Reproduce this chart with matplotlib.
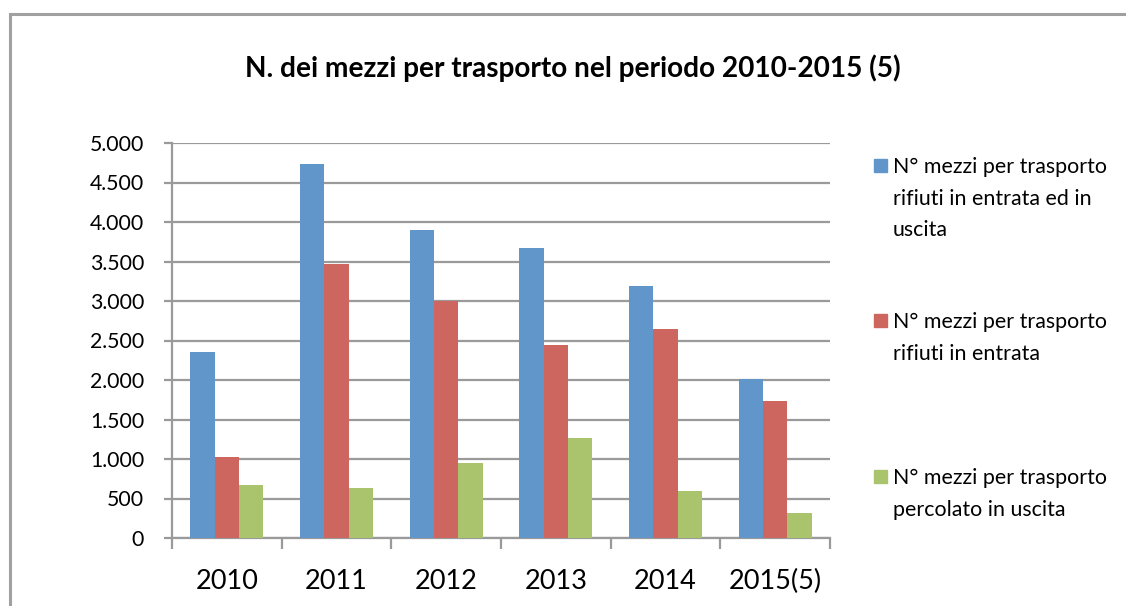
import numpy as np
import matplotlib
matplotlib.use("Agg")
import matplotlib.pyplot as plt
from matplotlib.patches import Rectangle

plt.rcParams['font.family'] = ['Lato', 'DejaVu Sans']

# data
years = ['2010', '2011', '2012', '2013', '2014', '2015(5)']
tot_mezzi = [2355, 4730, 3900, 3665, 3195, 2010]
entrata = [1020, 3465, 2995, 2440, 2640, 1735]
percolato = [665, 630, 945, 1260, 590, 315]

series_labels = ['N° mezzi per trasporto\nrifiuti in entrata ed in\nuscita',
                 'N° mezzi per trasporto\nrifiuti in entrata',
                 'N° mezzi per trasporto\npercolato in uscita']
colors = ['#6096C9', '#CD665F', '#A9C46C']
title = 'N. dei mezzi per trasporto nel periodo 2010-2015 (5)'

W, H = 1126, 606
fig = plt.figure(figsize=(W / 100, H / 100), dpi=100)

def fx(px):
    return px / W

def fy(py):
    return 1 - py / H

# outer frame (only left and top edges visible)
fig.patches.append(Rectangle((fx(10), fy(H + 20)), fx(W + 20) - fx(10), fy(14) - fy(H + 20),
                             transform=fig.transFigure, fill=False,
                             edgecolor='#A0A0A0', linewidth=2.2))

ax = fig.add_axes([fx(172), fy(538), fx(830) - fx(172), fy(143) - fy(538)])

x = np.arange(len(years))
w = 0.222
all_series = [tot_mezzi, entrata, percolato]
for i, (vals, c) in enumerate(zip(all_series, colors)):
    ax.bar(x + (i - 1) * w, vals, width=w, color=c, zorder=3)

ax.set_xlim(-0.5, len(years) - 0.5)
ax.set_ylim(0, 5000)
ax.set_yticks(range(0, 5001, 500))
ax.set_yticklabels([f'{v:,}'.replace(',', '.') for v in range(0, 5001, 500)], fontsize=15.3)
ax.yaxis.grid(True, color='#9A9A9A', linewidth=1.6, zorder=0)
ax.set_axisbelow(True)

# category ticks at boundaries, labels centered
ax.set_xticks(np.arange(-0.5, len(years)), minor=False)
ax.set_xticklabels([])
ax.set_xticks(x, minor=True)
ax.set_xticklabels(years, minor=True, fontsize=19.5)
ax.tick_params(axis='x', which='minor', length=0, pad=22)
ax.tick_params(axis='x', which='major', length=8, width=1.6, color='#9A9A9A')
ax.tick_params(axis='y', length=6, width=1.6, color='#9A9A9A', pad=14)

for s in ['top', 'right']:
    ax.spines[s].set_visible(False)
for s in ['left', 'bottom']:
    ax.spines[s].set_color('#9A9A9A')
    ax.spines[s].set_linewidth(1.6)

fig.text(fx(573), fy(68), title, ha='center', va='center', fontsize=20.2, fontweight='bold')

# legend drawn by hand to follow the reference layout
sq_tops = [159, 314, 470]
for lab, c, top in zip(series_labels, colors, sq_tops):
    fig.patches.append(Rectangle((fx(874), fy(top + 13)), fx(13), 13 / H,
                                 transform=fig.transFigure, color=c))
    fig.text(fx(893), fy(top - 2), lab, ha='left', va='top', fontsize=15.4, linespacing=1.72)

fig.savefig('out.png', dpi=100)
